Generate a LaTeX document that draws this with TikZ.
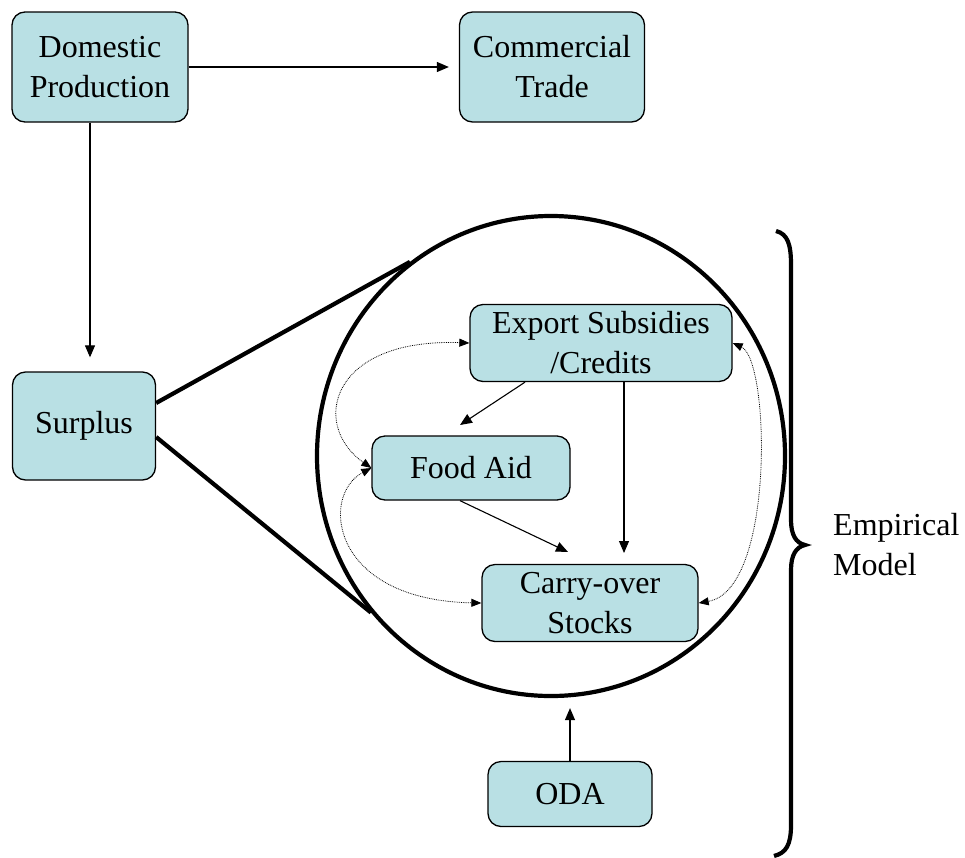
\documentclass[tikz,border=0pt]{standalone}
\usepackage{fontspec}
\setmainfont{Liberation Serif}
\usetikzlibrary{arrows.meta}
\usetikzlibrary{shapes.geometric}
\definecolor{boxfill}{RGB}{185,224,228}

\begin{document}
\begin{tikzpicture}[x=1pt,y=-1pt,
  every node/.style={font=\fontsize{32}{40}\selectfont},
  box/.style={draw,line width=1.3pt,rounded corners=13pt,fill=boxfill,align=center,inner sep=0pt},
  link/.style={line width=1.1pt,-{Triangle[length=12pt,width=10pt]}},
  loop/.style={densely dotted,line width=0.8pt,{Triangle[length=10pt,width=8pt]}-{Triangle[length=10pt,width=8pt]}},
  thickline/.style={line width=4.2pt}]
  \useasboundingbox (0,0) rectangle (965,857);

  \node[ellipse,draw,thickline,minimum width=468pt,minimum height=480pt,inner sep=0pt] (model) at (551,456) {};

  \node[box,minimum width=176pt,minimum height=110pt] (dom) at (100,67) {Domestic\\Production};
  \node[box,minimum width=185pt,minimum height=110pt] (trade) at (552,67) {Commercial\\Trade};
  \node[box,minimum width=143pt,minimum height=108pt] (surplus) at (84,426) {Surplus};
  \node[box,minimum width=262pt,minimum height=77pt] (exp) at (601,343) {Export Subsidies\\/Credits};
  \node[box,minimum width=198pt,minimum height=64pt] (food) at (471,468) {Food Aid};
  \node[box,minimum width=216pt,minimum height=77pt] (stock) at (590,603) {Carry-over\\Stocks};
  \node[box,minimum width=164pt,minimum height=65pt] (oda) at (570,794) {ODA};
  \node[align=left,anchor=west,inner sep=0pt] (emp) at (833,545) {Empirical\\Model};

  \draw[link,shorten >=10pt] (dom.east) -- (trade.west);
  \draw[link,shorten >=14pt] (dom.south -| 90,0) -- (surplus.north -| 90,0);
  \draw[thickline] (surplus.east |- 0,403) -- (model.126);
  \draw[thickline] (surplus.east |- 0,437) -- (model.221);
  \draw[link] (exp.south -| 525,0) -- (460,425);
  \draw[link] (exp.south -| 624,0) -- (624,553);
  \draw[link] (food.south -| 460,0) -- (568,552);
  \draw[link,shorten >=10pt] (oda.north) -- (model.south -| oda.north);
  \draw[loop] (exp.west) .. controls (330,338) and (310,425) .. (food.west);
  \draw[loop] (food.west) .. controls (320,495) and (330,600) .. (stock.west);
  \draw[loop] (exp.east) .. controls (770,360) and (775,590) .. (stock.east);

  \draw[thickline] (776,231) .. controls (788,234) and (791,245) .. (791,265) -- (791,520)
    .. controls (791,535) and (796,543) .. (805,545) .. controls (796,547) and (791,555) .. (791,570)
    -- (791,825) .. controls (791,845) and (786,853) .. (774,856);
\end{tikzpicture}
\end{document}
